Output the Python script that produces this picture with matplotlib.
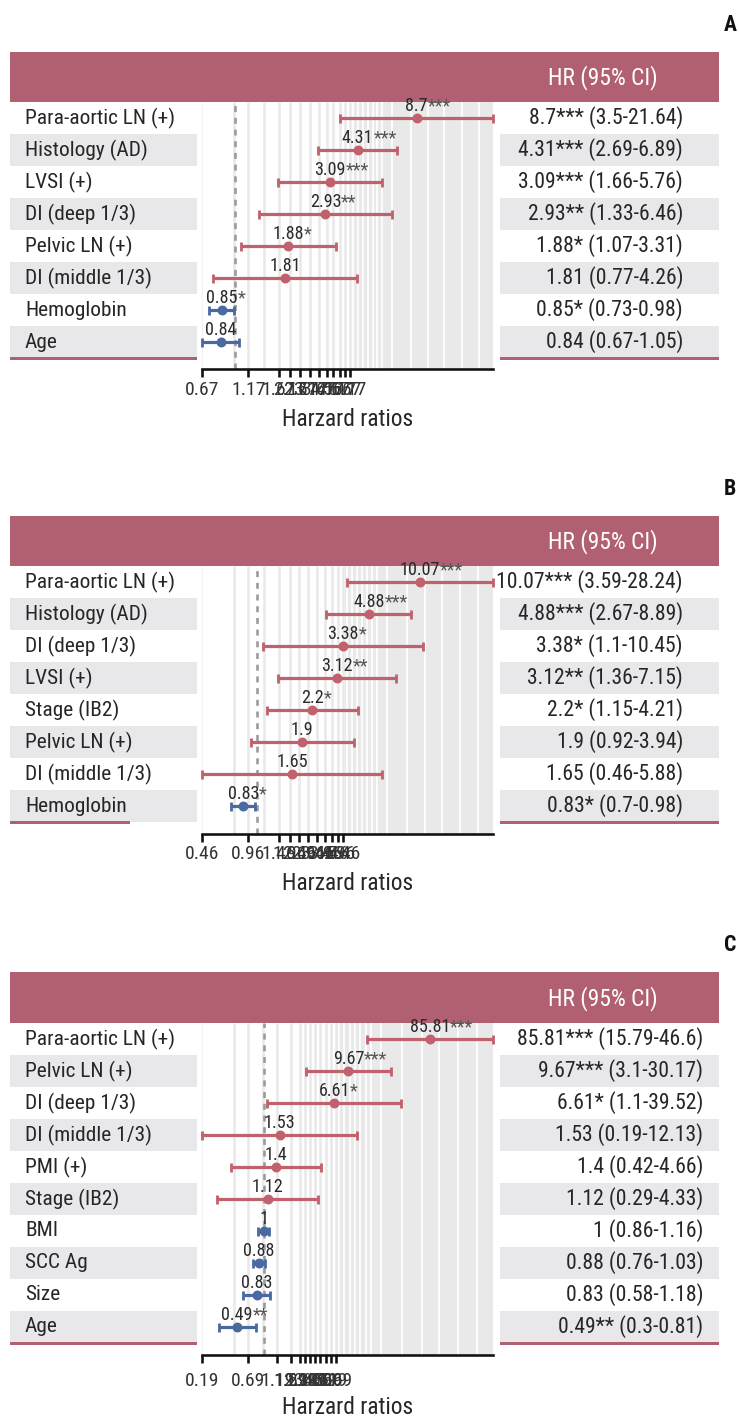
import os
import matplotlib
matplotlib.use("Agg")
import matplotlib.pyplot as plt
from matplotlib.patches import Rectangle
from matplotlib import font_manager as fm
from matplotlib.font_manager import FontProperties
import matplotlib.transforms as mtransforms
import numpy as np

# ---------------- data ----------------
labels_A = ["Para-aortic LN (+)", "Histology (AD)", "LVSI (+)", "DI (deep 1/3)",
            "Pelvic LN (+)", "DI (middle 1/3)", "Hemoglobin", "Age"]
hr_A = [8.7, 4.31, 3.09, 2.93, 1.88, 1.81, 0.85, 0.84]
lo_A = [3.5, 2.69, 1.66, 1.33, 1.07, 0.77, 0.73, 0.67]
hi_A = [21.64, 6.89, 5.76, 6.46, 3.31, 4.26, 0.98, 1.05]
sig_A = ["***", "***", "***", "**", "*", "", "*", ""]
ticks_A = [0.67, 1.17, 1.68, 1.93, 2.17, 2.44, 2.70, 2.98, 3.22, 3.49, 3.71, 3.93]
ticklabels_A = ["0.67", "1.17", "1.67", "2.17", "2.67", "3.17", "3.67", "4.17",
                "4.67", "5.17", "5.67", "6.17"]

labels_B = ["Para-aortic LN (+)", "Histology (AD)", "DI (deep 1/3)", "LVSI (+)",
            "Stage (IB2)", "Pelvic LN (+)", "DI (middle 1/3)", "Hemoglobin"]
hr_B = [10.07, 4.88, 3.38, 3.12, 2.2, 1.9, 1.65, 0.83]
lo_B = [3.59, 2.67, 1.1, 1.36, 1.15, 0.92, 0.46, 0.7]
hi_B = [28.24, 8.89, 10.45, 7.15, 4.21, 3.94, 5.88, 0.98]
sig_B = ["***", "***", "*", "**", "*", "", "", "*"]
ticks_B = [0.46, 0.89, 1.37, 1.60, 1.83, 2.08, 2.34, 2.63, 2.89, 3.18, 3.41]
ticklabels_B = ["0.46", "0.96", "1.46", "1.96", "2.46", "2.96", "3.46", "3.96",
                "4.46", "4.96", "5.46"]

labels_C = ["Para-aortic LN (+)", "Pelvic LN (+)", "DI (deep 1/3)", "DI (middle 1/3)",
            "PMI (+)", "Stage (IB2)", "BMI", "SCC Ag", "Size", "Age"]
hr_C = [85.81, 9.67, 6.61, 1.53, 1.4, 1.12, 1, 0.88, 0.83, 0.49]
lo_C = [15.79, 3.1, 1.1, 0.19, 0.42, 0.29, 0.86, 0.76, 0.58, 0.3]
hi_C = [466, 30.17, 39.52, 12.13, 4.66, 4.33, 1.16, 1.03, 1.18, 0.81]      # bar ends
hi_text_C = [46.6, 30.17, 39.52, 12.13, 4.66, 4.33, 1.16, 1.03, 1.18, 0.81]  # as printed
sig_C = ["***", "***", "*", "", "", "", "", "", "", "**"]
ticks_C = [0.19, 0.66, 1.44, 2.07, 2.64, 2.99, 3.44, 4.0, 4.58, 5.25, 6.03, 6.87]
ticklabels_C = ["0.19", "0.69", "1.19", "1.69", "2.19", "2.69", "3.19", "3.69",
                "4.19", "4.69", "5.19", "5.69"]


# ---------------- fonts: prefer a condensed sans ----------------
def find_font(bold=False):
    if bold:
        prefs = ['robotocondensed-bold', 'liberationsansnarrow-bold', 'notosans-condensedbold',
                 'opensans-condensedbold', 'opensans_condensed-bold', 'dejavusanscondensed-bold',
                 'notosans-semicondensedbold']
    else:
        prefs = ['robotocondensed-regular', 'liberationsansnarrow-regular', 'notosans-condensed.',
                 'opensans-condensedregular', 'opensans_condensed-regular', 'dejavusanscondensed.',
                 'notosans-semicondensed.']
    files = [f.fname for f in fm.fontManager.ttflist]
    for p in prefs:
        for fn in files:
            b = os.path.basename(fn).lower()
            if b.startswith(p):
                return FontProperties(fname=fn)
    for fn in files:
        b = os.path.basename(fn).lower()
        if ('condensed' in b or 'narrow' in b) and 'mono' not in b and 'italic' not in b \
                and 'serif' not in b and (('bold' in b) == bold) and 'semi' not in b:
            return FontProperties(fname=fn)
    return FontProperties(family=['Roboto', 'DejaVu Sans'],
                          weight='bold' if bold else 'normal')


FP = find_font(False)
FPB = find_font(True)

# ---------------- layout ----------------
W, H, DPI = 739, 1418, 100
fig = plt.figure(figsize=(W / DPI, H / DPI), dpi=DPI)
fig.patch.set_facecolor('white')
renderer = fig.canvas.get_renderer()


def fx(p):
    return p / W


def fy(p):
    return 1 - p / H


def pt(px):
    return px * 72 / DPI


def fit(pairs, fp, base=20.0):
    tot_t, tot_m = 0.0, 0.0
    for s, target_px in pairs:
        t = fig.text(0, 0, s, fontproperties=fp, fontsize=base)
        tot_m += t.get_window_extent(renderer=renderer).width
        tot_t += target_px
        t.remove()
    return base * tot_t / tot_m


FS_ROW = fit([("Para-aortic LN (+)", 151), ("DI (middle 1/3)", 126)], FP)
FS_RIGHT = fit([("8.7*** (3.5-21.64)", 158), ("85.81*** (15.79-46.6)", 180),
                ("0.49** (0.3-0.81)", 148), ("4.31*** (2.69-6.89)", 167)], FP)
FS_HEAD = fit([("HR (95% CI)", 110)], FP)
FS_XL = fit([("Harzard ratios", 131)], FP)
FS_TICK = fit([("0.67", 34)], FP)
FS_LAB = fit([("4.31", 32), ("85.81", 40)], FP)
FS_LET = fit([("A", 13)], FPB)

HEADER = '#B06070'
RED = '#C0616B'
BLUE = '#4A69A0'
SHADE = '#E8E8EA'
GRID = '#E9E9E9'
TXT = '#262626'

X0, X1 = 201.7, 493
LEFT0, LEFT1 = 10, 197
RIGHT0, RIGHT1 = 500, 719
ROWH = 32
BAND_PATTERN = [0.011, 0.045, 0.079, 0.113, 0.147, 0.181, 0.214, 0.282, 0.417,
                0.541, 0.653, 0.777, 0.899]


def rect(x0, y0, x1, y1, color, z=0):
    fig.add_artist(Rectangle((fx(x0), fy(y1)), fx(x1) - fx(x0), (y1 - y0) / H,
                             transform=fig.transFigure, facecolor=color,
                             edgecolor='none', lw=0, zorder=z))


panels = [
    dict(letter='A', labels=labels_A, hr=hr_A, lo=lo_A, hi=hi_A, hi_txt=hi_A, sig=sig_A,
         ticks=ticks_A, ticklabels=ticklabels_A, top=52, hb=102, axy=369, tly=391,
         xly=420, rx=683, line_end=197),
    dict(letter='B', labels=labels_B, hr=hr_B, lo=lo_B, hi=hi_B, hi_txt=hi_B, sig=sig_B,
         ticks=ticks_B, ticklabels=ticklabels_B, top=516, hb=566, axy=834, tly=855,
         xly=884, rx=683, line_end=130),
    dict(letter='C', labels=labels_C, hr=hr_C, lo=lo_C, hi=hi_C, hi_txt=hi_text_C,
         sig=sig_C, ticks=ticks_C, ticklabels=ticklabels_C, top=972, hb=1023,
         axy=1355, tly=1382, xly=1408, rx=703, line_end=197),
]

star_jobs = []
for P in panels:
    n = len(P['labels'])
    top, hb, axy = P['top'], P['hb'], P['axy']

    fig.text(fx(730), fy(top - 27), P['letter'], ha='center', va='center',
             fontproperties=FPB, fontsize=FS_LET, color='#111111')
    rect(LEFT0, top, RIGHT1, hb, HEADER)
    fig.text(fx(603), fy((top + hb) / 2 + 1), 'HR (95% CI)', color='white',
             ha='center', va='center', fontproperties=FP, fontsize=FS_HEAD)

    for i in range(n):
        y0 = hb + i * ROWH
        y1 = y0 + ROWH
        yc = (y0 + y1) / 2
        if i % 2 == 1:
            rect(LEFT0, y0, LEFT1, y1, SHADE)
            rect(RIGHT0, y0, RIGHT1, y1, SHADE)
        fig.text(fx(25), fy(yc), P['labels'][i], ha='left', va='center',
                 fontproperties=FP, fontsize=FS_ROW, color=TXT)
        txt = f"{P['hr'][i]:g}{P['sig'][i]} ({P['lo'][i]:g}-{P['hi_txt'][i]:g})"
        fig.text(fx(P['rx']), fy(yc), txt, ha='right', va='center',
                 fontproperties=FP, fontsize=FS_RIGHT, color=TXT)

    yb = hb + n * ROWH
    rect(LEFT0, yb - 1.5, P['line_end'], yb + 1.5, HEADER, z=1)
    rect(RIGHT0, yb - 1.5, RIGHT1, yb + 1.5, HEADER, z=1)

    # ---- forest axes ----
    ax = fig.add_axes([fx(X0), fy(axy), fx(X1) - fx(X0), (axy - hb) / H])
    ax.set_xscale('log')
    xmin, xmax = min(P['lo']), max(P['hi'])
    ax.set_xlim(xmin, xmax)
    ax.set_ylim(-0.5 + (axy - hb) / ROWH, -0.5)
    ax.set_facecolor('white')

    fr = [np.log(t / xmin) / np.log(xmax / xmin) for t in P['ticks']]
    gray_lines = fr[1:] + [0.11, (fr[1] + fr[2]) / 2]
    for f in gray_lines:
        ax.plot([f, f], [0, 1], transform=ax.transAxes, color=GRID, lw=pt(2.6),
                zorder=0.5, solid_capstyle='butt')
    ax.plot([0.002, 0.002], [0, 1], transform=ax.transAxes, color='#F3F3F3',
            lw=pt(2), zorder=0.5)
    bs = fr[-1] + 0.006
    ax.add_patch(Rectangle((bs, 0), 1 - bs, 1, transform=ax.transAxes,
                           facecolor=GRID, edgecolor='none', zorder=0.4))
    for p in BAND_PATTERN:
        f = bs + p * (1 - bs)
        ax.plot([f, f], [0, 1], transform=ax.transAxes, color='white', lw=pt(1.8),
                zorder=0.6, solid_capstyle='butt')

    ax.axvline(1, color='#9A9A9A', lw=pt(2.6), ls=(0, (2.3, 2.2)), zorder=1)

    for i in range(n):
        h, l, u = P['hr'][i], P['lo'][i], P['hi'][i]
        c = RED if h > 1 else BLUE
        ax.errorbar([h], [i], xerr=[[h - l], [u - h]], fmt='o', color=c,
                    ms=pt(8.5), elinewidth=pt(3.2), capsize=pt(4.5),
                    capthick=pt(2.8), zorder=3, clip_on=False)
        t = ax.text(h, i - 0.38, f"{h:g}", ha='center', va='center',
                    fontproperties=FP, fontsize=FS_LAB, color='#2A2A2A', zorder=4)
        if P['sig'][i]:
            star_jobs.append((ax, t, h, i - 0.38, P['sig'][i]))

    for s in ['top', 'right', 'left']:
        ax.spines[s].set_visible(False)
    ax.spines['bottom'].set_linewidth(pt(2.6))
    ax.spines['bottom'].set_color('#111111')
    ax.set_yticks([])
    ax.xaxis.set_minor_locator(matplotlib.ticker.NullLocator())
    ax.set_xticks(P['ticks'])
    ax.set_xticklabels(P['ticklabels'], fontproperties=FP)
    pad_px = P['tly'] - axy - 8 - 10
    ax.tick_params(axis='x', direction='out', length=pt(8), width=pt(2.6),
                   color='#111111', labelcolor='#333333', pad=pt(max(pad_px, 1)))
    for lab in ax.get_xticklabels():
        lab.set_fontsize(FS_TICK)
    fig.text(fx((X0 + X1) / 2), fy(P['xly']), 'Harzard ratios', ha='center',
             va='center', fontproperties=FP, fontsize=FS_XL, color=TXT)

# stars after the number labels
fig.canvas.draw()
r = fig.canvas.get_renderer()
for ax, t, h, yv, s in star_jobs:
    w = t.get_window_extent(renderer=r).width
    tr = mtransforms.offset_copy(ax.transData, fig=fig, x=w / 2, y=0, units='dots')
    ax.text(h, yv, s, transform=tr, ha='left', va='center', fontproperties=FP,
            fontsize=FS_LAB, color='#555555', zorder=4)

fig.savefig('out.png', dpi=DPI)
